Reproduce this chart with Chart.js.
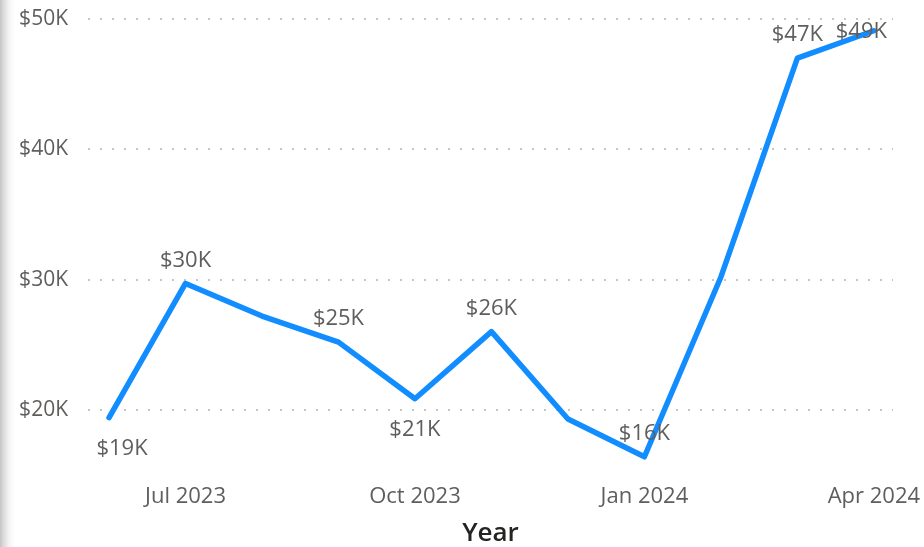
<!DOCTYPE html>
<html>
<head>
<meta charset="utf-8">
<script src="https://cdn.jsdelivr.net/npm/chart.js@4/dist/chart.umd.min.js"></script>
<style>
  html, body {
    margin: 0;
    padding: 0;
    width: 924px;
    height: 547px;
    overflow: hidden;
    background: linear-gradient(to right, #c4c4c4 0px, #d8d8d8 3px, #f4f4f4 9px, #ffffff 15px);
  }
  #wrap { position: relative; width: 924px; height: 547px; }
</style>
</head>
<body>
<div id="wrap"><canvas id="revenue-chart"></canvas></div>
<script>
/* =========================================================
   DATA
========================================================= */

const months = [
  "Jun 2023", "Jul 2023", "Aug 2023", "Sep 2023", "Oct 2023", "Nov 2023",
  "Dec 2023", "Jan 2024", "Feb 2024", "Mar 2024", "Apr 2024"
];
const revenue = [19400, 29700, 27200, 25200, 20850, 26000, 19300, 16400, 30200, 47000, 49100];

const xTickMonths = ["Jul 2023", "Oct 2023", "Jan 2024", "Apr 2024"];
const yTickValues = [20000, 30000, 40000, 50000];

/* =========================================================
   HELPERS
========================================================= */

const FONT = "'Open Sans', 'Noto Sans', sans-serif";
const GREY_TEXT = "#605E5C";

function formatK(value) {
  return `$${Math.round(value / 1000)}K`;
}

// which points get a value label, and on which side of the line
const labelPlacement = [
  { pos: "below", dx: 13 },
  { pos: "above" },
  null,
  { pos: "above" },
  { pos: "below" },
  { pos: "above" },
  null,
  { pos: "above" },
  null,
  { pos: "above" },
  { pos: "above" }
];

const pointLabels = {
  id: "pointLabels",
  afterDatasetsDraw(chart) {
    const { ctx, chartArea } = chart;
    const meta = chart.getDatasetMeta(0);

    ctx.save();
    ctx.font = `22px ${FONT}`;
    ctx.fillStyle = GREY_TEXT;
    ctx.textAlign = "center";
    ctx.textBaseline = "middle";

    meta.data.forEach((pt, i) => {
      const place = labelPlacement[i];
      if (!place) return;

      const text = formatK(revenue[i]);
      const w = ctx.measureText(text).width;

      let x = pt.x + (place.dx || 0);
      let y = place.pos === "below" ? pt.y + 31 : pt.y - 23;

      // keep labels inside the visual
      x = Math.min(x, chart.width - 37 - w / 2);
      y = Math.max(y, chartArea.top + 13);

      ctx.fillText(text, x, y);
    });

    ctx.restore();
  }
};

/* =========================================================
   CHART
========================================================= */

new Chart(document.getElementById("revenue-chart"), {
  type: "line",
  data: {
    datasets: [
      {
        label: "Revenue",
        data: revenue.map((v, i) => ({ x: i, y: v })),
        borderColor: "#118DFF",
        borderWidth: 5.5,
        borderCapStyle: "round",
        borderJoinStyle: "round",
        pointRadius: 0,
        tension: 0,
        fill: false,
        clip: false
      }
    ]
  },
  options: {
    responsive: true,
    maintainAspectRatio: false,
    animation: false,
    layout: {
      autoPadding: false,
      padding: { left: 18, right: 31, top: 19, bottom: 0 }
    },
    plugins: {
      legend: { display: false },
      tooltip: { enabled: false }
    },
    scales: {
      x: {
        type: "linear",
        min: -0.275,
        max: 10.25,
        grid: { display: false, drawTicks: false },
        border: { display: false },
        afterBuildTicks: (axis) => {
          axis.ticks = xTickMonths.map((m) => ({ value: months.indexOf(m) }));
        },
        afterFit: (axis) => {
          axis.height = 72;
          axis.paddingLeft = 0;
          axis.paddingRight = 0;
        },
        ticks: {
          autoSkip: false,
          maxRotation: 0,
          padding: 9,
          color: GREY_TEXT,
          font: { family: FONT, size: 22 },
          callback: (v) => months[v]
        },
        title: {
          display: true,
          text: "Year",
          color: "#252423",
          font: { family: FONT, size: 26, weight: "600", lineHeight: 1 },
          padding: { top: 0, bottom: 0 }
        }
      },
      y: {
        min: 15000,
        max: 50000,
        grid: {
          color: "#C8C6C4",
          lineWidth: 2,
          drawTicks: false
        },
        border: { display: false, dash: [2, 10] },
        afterBuildTicks: (axis) => {
          axis.ticks = yTickValues.map((v) => ({ value: v }));
        },
        afterFit: (axis) => {
          axis.width = 70;
          axis.paddingTop = 0;
          axis.paddingBottom = 0;
        },
        ticks: {
          padding: 20,
          color: GREY_TEXT,
          font: { family: FONT, size: 21 },
          callback: (v) => formatK(v)
        }
      }
    }
  },
  plugins: [pointLabels]
});
</script>
</body>
</html>
